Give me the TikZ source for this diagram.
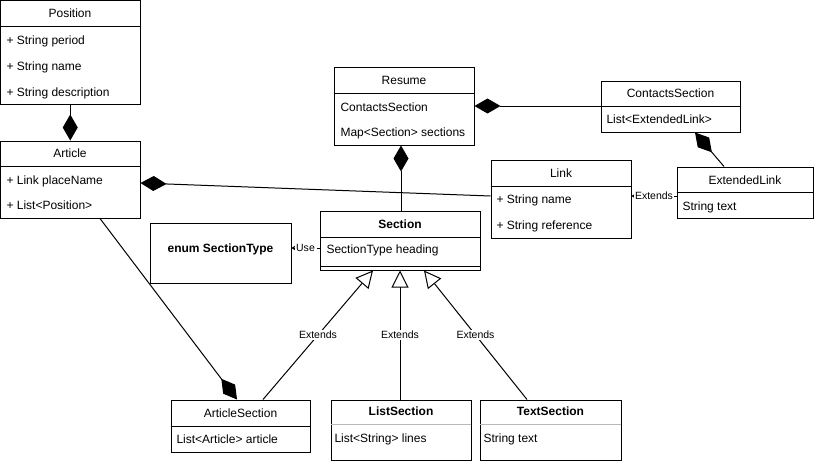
\documentclass[tikz,border=0pt]{standalone}
\usepackage{fontspec}
\setmainfont{Liberation Sans}
\usetikzlibrary{arrows.meta,fit,calc}
\begin{document}
\begin{tikzpicture}[x=1pt,y=-1pt,line width=1pt,
  cls/.style={draw,inner sep=0pt,line width=1pt},
  ttl/.style={inner sep=0pt,font=\fontsize{12}{14}\selectfont,text height=8.6pt,text depth=0pt},
  bttl/.style={ttl,font=\fontsize{12}{14}\selectfont\bfseries},
  row/.style={anchor=west,inner sep=0pt,font=\fontsize{12}{14}\selectfont,text height=8.6pt,text depth=0pt},
  lbl/.style={fill=white,inner sep=1pt,font=\fontsize{10.5}{12}\selectfont},
  comp/.style={-{Diamond[length=26pt,width=15pt]}},
  compr/.style={{Diamond[length=26pt,width=15pt]}-},
  gen/.style={-{Triangle[open,length=17pt,width=17pt,fill=white]}},
  dep/.style={dash pattern=on 3pt off 3pt,-{Stealth[length=4pt,width=5pt]}}
]
\useasboundingbox (0,0) rectangle (818,461);

% Position
\node[cls,fit={(0.5,0.5) (140,104)}] (position) {};
\draw (position.west |- 0,26) -- (position.east |- 0,26);
\node[ttl] (positionT) at (70,13) {Position};
\node[row] (pos1) at (6,40) {+ String period};
\node[row] (pos2) at (6,66) {+ String name};
\node[row] (pos3) at (6,92) {+ String description};

% Article
\node[cls,fit={(0.5,141) (140,218)}] (article) {};
\draw (article.west |- 0,166) -- (article.east |- 0,166);
\node[ttl] (articleT) at (70,153) {Article};
\node[row] (art1) at (6,180) {+ Link placeName};
\node[row] (art2) at (6,205) {+ List<Position>};

% Resume
\node[cls,fit={(334,67) (474,145)}] (resume) {};
\draw (resume.west |- 0,93) -- (resume.east |- 0,93);
\node[ttl] (resumeT) at (404,80) {Resume};
\node[row] (res1) at (340,107) {ContactsSection};
\node[row] (res2) at (340,132) {Map<Section> sections};

% ContactsSection
\node[cls,fit={(601,81) (740,132)}] (contacts) {};
\draw (contacts.west |- 0,106) -- (contacts.east |- 0,106);
\node[ttl] (contactsT) at (670.5,93.5) {ContactsSection};
\node[row] (con1) at (606,119) {List<ExtendedLink>};

% Link
\node[cls,fit={(491,160) (631,238)}] (link) {};
\draw (link.west |- 0,186) -- (link.east |- 0,186);
\node[ttl] (linkT) at (561,173) {Link};
\node[row] (lnk1) at (496,199) {+ String name};
\node[row] (lnk2) at (496,225) {+ String reference};

% ExtendedLink
\node[cls,fit={(677,167) (813,218)}] (extlink) {};
\draw (extlink.west |- 0,192) -- (extlink.east |- 0,192);
\node[ttl] (extlinkT) at (745,180) {ExtendedLink};
\node[row] (ext1) at (682,206) {String text};

% enum SectionType
\node[cls,fit={(150,223) (291,283)}] (enumst) {};
\node[bttl] (enumT) at (220.5,248) {enum SectionType};

% Section
\node[cls,fit={(320,211) (480,270)}] (section) {};
\draw (section.west |- 0,237) -- (section.east |- 0,237);
\draw (section.west |- 0,266) -- (section.east |- 0,266);
\node[bttl] (sectionT) at (400,224) {Section};
\node[row] (sec1) at (326,249) {SectionType heading};

% ArticleSection
\node[cls,fit={(171,400) (310,452)}] (artsec) {};
\draw (artsec.west |- 0,426) -- (artsec.east |- 0,426);
\node[ttl] (artsecT) at (240.5,413) {ArticleSection};
\node[row] (as1) at (176,439) {List<Article> article};

% ListSection
\node[cls,fit={(331,400) (471,460)}] (listsec) {};
\draw[gray!55] ([xshift=0.5pt]listsec.west |- 0,424) -- ([xshift=-0.5pt]listsec.east |- 0,424);
\node[bttl] (listsecT) at (401,411) {ListSection};
\node[row] (ls1) at (334,438) {List<String> lines};

% TextSection
\node[cls,fit={(480,400) (621,460)}] (textsec) {};
\draw[gray!55] ([xshift=0.5pt]textsec.west |- 0,424) -- ([xshift=-0.5pt]textsec.east |- 0,424);
\node[bttl] (textsecT) at (550.5,411) {TextSection};
\node[row] (ts1) at (483,438) {String text};

% Connectors
\draw[comp] (position.south) -- (article.north);
\draw[compr] (article.east |- 0,183) -- (link.west |- 0,196);
\draw[compr] (resume.east) -- (contacts.west |- resume.east);
\draw[compr] (resume.south -| 401,0) -- (section.north -| 401,0);
\draw[compr] (contacts.south -| 695,0) -- (extlink.north -| 724,0);
\draw[comp] (article.south -| 100,0) -- (artsec.north -| 237,0);

\draw[dep] (extlink.west |- 0,196) -- node[lbl] {Extends} (link.east |- 0,196);
\draw[dep] (section.west |- 0,248) -- node[lbl] {Use} (enumst.east |- 0,248);

\draw[gen] (artsec.north -| 263,0) -- node[lbl] {Extends} (section.south -| 373,0);
\draw[gen] (listsec.north -| 400,0) -- node[lbl] {Extends} (section.south -| 400,0);
\draw[gen] (textsec.north -| 527,0) -- node[lbl] {Extends} (section.south -| 424,0);
\end{tikzpicture}
\end{document}
